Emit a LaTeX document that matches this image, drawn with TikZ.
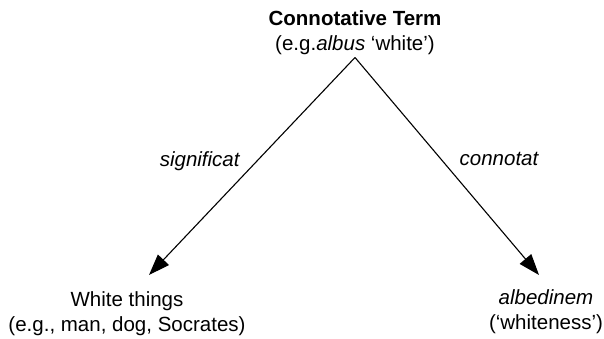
\documentclass[tikz,border=0pt]{standalone}
\usepackage{fontspec}
\setmainfont{Liberation Sans}
\usetikzlibrary{arrows.meta}

\begin{document}
\begin{tikzpicture}[x=1pt, y=-1pt,
  word/.style={align=center, inner sep=0pt, anchor=north, font=\fontsize{20.5}{25}\selectfont},
  arrow/.style={-{Triangle[length=21pt, width=15pt]}, line width=1.1pt},
  rel/.style={font=\fontsize{20.5}{25}\selectfont\itshape, inner sep=0pt}
]
\useasboundingbox (0,0) rectangle (604,339);

% Top term
\node[word] (term) at (355,10) {\textbf{Connotative Term}\\(e.g.\textit{albus} `white')};

% Bottom terms
\node[word] (things) at (127,291) {White things\\(e.g., man, dog, Socrates)};
\node[word] (albed) at (546,289) {\textit{albedinem}\\(`whiteness')};

% Connections
\draw[arrow] ([yshift=-3pt]term.south) -- node[rel, pos=0.475, left=17pt] {significat} ([xshift=22pt, yshift=16pt]things.north);
\draw[arrow] ([yshift=-3pt]term.south) -- node[rel, pos=0.468, right=18pt] {connotat} ([xshift=-7pt, yshift=14pt]albed.north);

\end{tikzpicture}
\end{document}
